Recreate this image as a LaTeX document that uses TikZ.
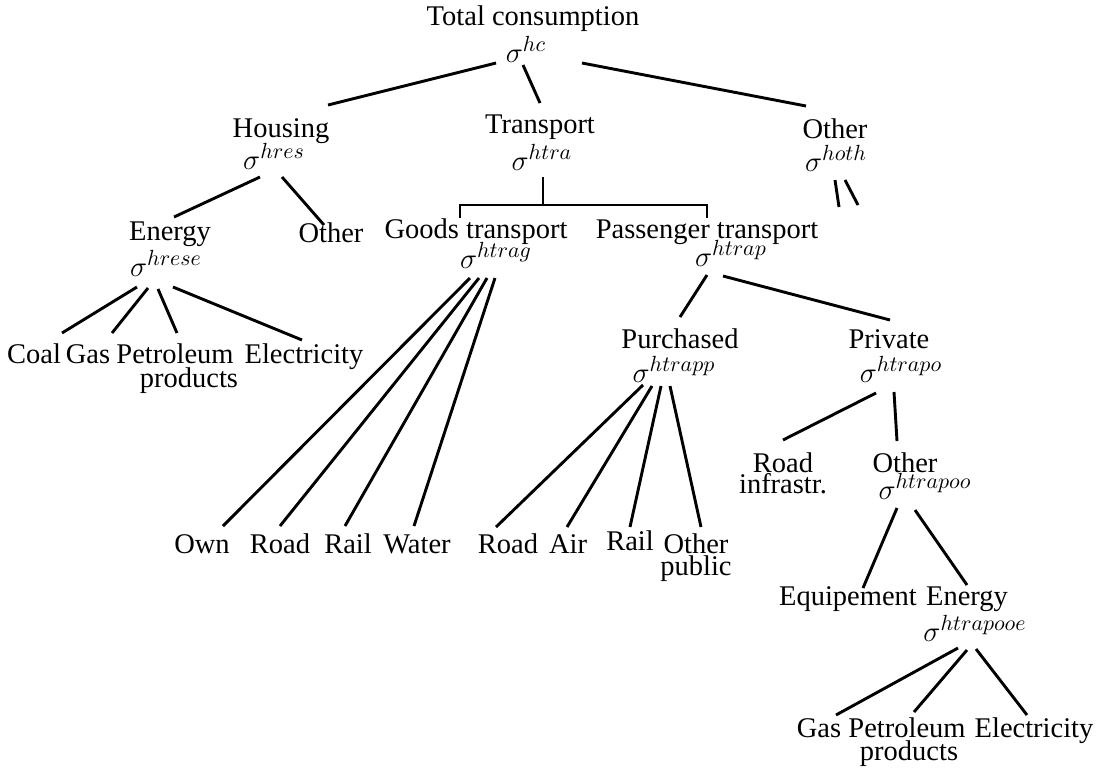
\documentclass[tikz,border=0pt]{standalone}
\usepackage{fontspec}
\setmainfont{Liberation Serif}
\newcommand\mystack[3]{\vtop{\baselineskip=#3\lineskiplimit=-\maxdimen\tabskip=0pt\halign{\hfil##\hfil\cr#1\cr#2\cr}}}
\begin{document}
\begin{tikzpicture}[x=0.5pt,y=-0.5pt,
  lbl/.style={anchor=base,inner sep=0pt,font=\fontsize{14.25}{16}\selectfont},
  sg/.style={anchor=base,inner sep=0pt,font=\fontsize{15.7}{18}\selectfont},
  edge/.style={line width=1.45pt}]
\useasboundingbox (0,0) rectangle (1102,773);
% level 0
\node[lbl] (tc)  at (533,25) {Total consumption};
\node[sg]  (tcs) at (526,62) {$\sigma^{hc}$};
% level 1
\node[lbl] (hou)  at (281,137) {Housing};
\node[sg]  (hous) at (274,169) {$\sigma^{hres}$};
\node[lbl] (tra)  at (540,133) {Transport};
\node[sg]  (tras) at (542,170) {$\sigma^{htra}$};
\node[lbl] (oth)  at (835,138) {Other};
\node[sg]  (oths) at (836,171) {$\sigma^{hoth}$};
% level 2
\node[lbl] (ene)  at (170,240) {Energy};
\node[sg]  (enes) at (166,276) {$\sigma^{hrese}$};
\node[lbl] (hoth) at (331,242) {Other};
\node[lbl] (goo)  at (476,238) {Goods transport};
\node[sg]  (goos) at (496,268) {$\sigma^{htrag}$};
\node[lbl] (pas)  at (707,238) {Passenger transport};
\node[sg]  (pass) at (731,266) {$\sigma^{htrap}$};
% housing energy leaves
\node[lbl] (coal)  at (34,363)  {Coal};
\node[lbl] (gas)   at (88,363)  {Gas};
\node[lbl] (petr)  at (175,363) {Petroleum};
\node[lbl] (prod1) at (189,387) {products};
\node[lbl] (elec)  at (304,363) {Electricity};
% passenger level
\node[lbl] (pur)  at (680,348) {Purchased};
\node[sg]  (purs) at (674,382) {$\sigma^{htrapp}$};
\node[lbl] (pri)  at (889,348) {Private};
\node[sg]  (pris) at (901,382) {$\sigma^{htrapo}$};
% goods leaves
\node[lbl] (own)   at (202,553) {Own};
\node[lbl] (groad) at (280,553) {Road};
\node[lbl] (grail) at (348,553) {Rail};
\node[lbl] (water) at (417,553) {Water};
% purchased leaves
\node[lbl] (proad) at (508,553) {Road};
\node[lbl] (air)   at (568,553) {Air};
\node[lbl] (prail) at (630,550) {Rail};
\node[lbl] (poth)  at (696,553) {\mystack{Other}{public}{11pt}};
% private
\node[lbl] (road)  at (783,472) {\mystack{Road}{infrastr.}{10.5pt}};
\node[lbl] (ooth)  at (905,472) {Other};
\node[sg]  (ooths) at (925,499) {$\sigma^{htrapoo}$};
\node[lbl] (equip) at (848,605) {Equipement};
\node[lbl] (oene)  at (967,605) {Energy};
\node[sg]  (oenes) at (975,641) {$\sigma^{htrapooe}$};
\node[lbl] (ogas)  at (819,737) {Gas};
\node[lbl] (opetr) at (907,737) {Petroleum};
\node[lbl] (oprod) at (909,760) {products};
\node[lbl] (oelec) at (1034,737) {Electricity};
% connectors
\draw[edge] ([shift={(-30,1)}]tcs.base) -- ([shift={(47,-32)}]hou.base);
\draw[edge] ([shift={(-3,3)}]tcs.base) -- ([shift={(0,-30)}]tra.base);
\draw[edge] ([shift={(56,1)}]tcs.base) -- ([shift={(-29,-32)}]oth.base);
\draw[edge] ([shift={(-14,8)}]hous.base) -- ([shift={(4,-23)}]ene.base);
\draw[edge] ([shift={(8,8)}]hous.base) -- ([shift={(-7,-17)}]hoth.base);
\draw[edge] ([shift={(1,7)}]tras.base) -- ([shift={(1,35)}]tras.base);
\draw[edge] ([shift={(-16,-20)}]goo.base) |- ([shift={(1,35)}]tras.base) -| ([shift={(0,-20)}]pas.base);
\draw[edge] ([shift={(-1,9)}]oths.base) -- ([shift={(3,36)}]oths.base);
\draw[edge] ([shift={(9,9)}]oths.base) -- ([shift={(22,34)}]oths.base);
\draw[edge] ([shift={(-29,11)}]enes.base) -- ([shift={(28,-30)}]coal.base);
\draw[edge] ([shift={(-18,12)}]enes.base) -- ([shift={(24,-30)}]gas.base);
\draw[edge] ([shift={(-8,13)}]enes.base) -- ([shift={(2,-30)}]petr.base);
\draw[edge] ([shift={(7,11)}]enes.base) -- ([shift={(-2,-23)}]elec.base);
\draw[edge] ([shift={(-26,10)}]goos.base) -- ([shift={(21,-27)}]own.base);
\draw[edge] ([shift={(-17,10)}]goos.base) -- ([shift={(0,-27)}]groad.base);
\draw[edge] ([shift={(-9,10)}]goos.base) -- ([shift={(-3,-27)}]grail.base);
\draw[edge] ([shift={(-1,10)}]goos.base) -- ([shift={(-3,-27)}]water.base);
\draw[edge] ([shift={(-24,9)}]pass.base) -- ([shift={(0,-31)}]pur.base);
\draw[edge] ([shift={(-8,10)}]pass.base) -- ([shift={(1,-28)}]pri.base);
\draw[edge] ([shift={(-31,3)}]purs.base) -- ([shift={(-12,-26)}]proad.base);
\draw[edge] ([shift={(-22,4)}]purs.base) -- ([shift={(-1,-26)}]air.base);
\draw[edge] ([shift={(-13,4)}]purs.base) -- ([shift={(0,-23)}]prail.base);
\draw[edge] ([shift={(-4,4)}]purs.base) -- ([shift={(5,-26)}]poth.base);
\draw[edge] ([shift={(-25,11)}]pris.base) -- ([shift={(0,-32)}]road.base);
\draw[edge] ([shift={(-7,10)}]pris.base) -- ([shift={(-8,-31)}]ooth.base);
\draw[edge] ([shift={(-28,9)}]ooths.base) -- ([shift={(15,-17)}]equip.base);
\draw[edge] ([shift={(-10,11)}]ooths.base) -- ([shift={(0,-20)}]oene.base);
\draw[edge] ([shift={(-17,7)}]oenes.base) -- ([shift={(17,-22)}]ogas.base);
\draw[edge] ([shift={(-8,9)}]oenes.base) -- ([shift={(7,-25)}]opetr.base);
\draw[edge] ([shift={(1,8)}]oenes.base) -- ([shift={(-7,-22)}]oelec.base);
\end{tikzpicture}
\end{document}
